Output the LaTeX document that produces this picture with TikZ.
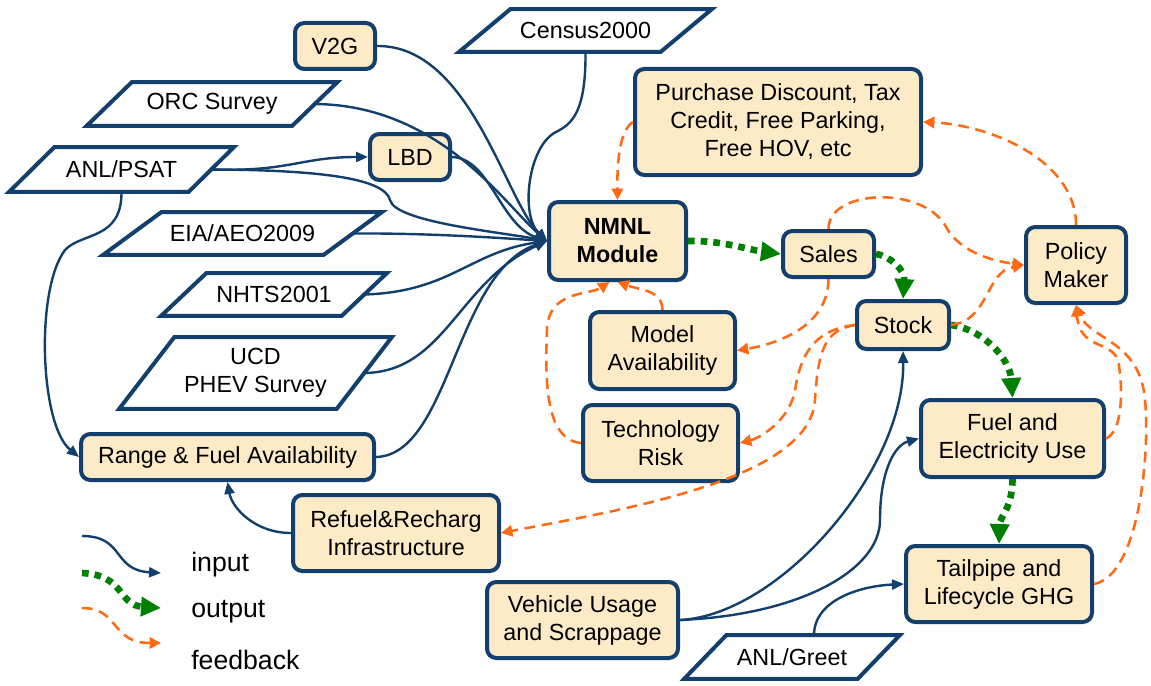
\documentclass[tikz,border=0pt]{standalone}
\usepackage{fontspec}
\setmainfont{Liberation Sans}
\usetikzlibrary{arrows.meta,calc}
\definecolor{bordblue}{HTML}{133F6C}
\definecolor{peach}{HTML}{FDEAC6}
\definecolor{outgreen}{HTML}{008000}
\definecolor{fborange}{HTML}{FF6A13}
\newcommand{\drawdatashape}[2]{%
  \draw[dataline] ($(#1.south west)+(-#2/2,0)$) -- ($(#1.north west)+(#2/2,0)$) -- ($(#1.north east)+(#2/2,0)$) -- ($(#1.south east)+(-#2/2,0)$) -- cycle;}
\begin{document}
\begin{tikzpicture}[x=0.75pt,y=-0.75pt,
  box/.style={draw=bordblue, fill=peach, line width=3pt, rounded corners=7pt, align=center, inner sep=0pt, font=\fontsize{17.5}{21}\selectfont},
  data/.style={inner sep=0pt, align=center, font=\fontsize{17.5}{21}\selectfont},
  dataline/.style={draw=bordblue, line width=3pt, line join=miter},
  inp/.style={draw=bordblue, line width=1.8pt, -{Triangle[length=9pt,width=7.5pt]}},
  outp/.style={draw=outgreen, line width=5pt, dash pattern=on 5pt off 4.5pt, -{Triangle[length=15pt,width=14pt]}},
  fb/.style={draw=fborange, line width=1.9pt, dash pattern=on 8pt off 5pt, -{Triangle[length=8.5pt,width=8.5pt]}},
  legtext/.style={anchor=west, inner sep=0pt, font=\fontsize{20}{24}\selectfont},
]
\useasboundingbox (0,0) rectangle (1151,685);

% ---------- data sources (parallelograms) ----------
\node[data, minimum width=150.75pt, minimum height=31.5pt] (census) at (585.5,30.5) {Census2000};
\node[data, minimum width=153.75pt, minimum height=32.25pt] (orc) at (212,104) {ORC Survey};
\node[data, minimum width=134.25pt, minimum height=33pt] (psat) at (121.5,169.5) {ANL/PSAT};
\node[data, minimum width=165pt, minimum height=31.5pt] (eia) at (242.5,233.5) {EIA/AEO2009};
\node[data, minimum width=135pt, minimum height=31.5pt] (nhts) at (274,294.5) {NHTS2001};
\node[data, minimum width=162.75pt, minimum height=53.25pt] (ucd) at (255.5,373) {UCD\\PHEV Survey};
\node[data, minimum width=129.75pt, minimum height=32.25pt] (greet) at (792,657) {ANL/Greet};
\drawdatashape{census}{51}
\drawdatashape{orc}{45}
\drawdatashape{psat}{45}
\drawdatashape{eia}{58}
\drawdatashape{nhts}{45}
\drawdatashape{ucd}{55}
\drawdatashape{greet}{42}

% ---------- boxes ----------
\node[box, minimum width=60pt, minimum height=34.5pt] (v2g) at (335,46) {V2G};
\node[box, minimum width=60pt, minimum height=34.5pt] (lbd) at (410,157) {LBD};
\node[box, minimum width=214.5pt, minimum height=79.5pt] (purchase) at (778,122) {Purchase Discount, Tax\\Credit, Free Parking,\\Free HOV, etc};
\node[box, minimum width=102.75pt, minimum height=58.5pt, font=\fontsize{17.5}{21}\selectfont\bfseries] (nmnl) at (617.5,241) {NMNL\\Module};
\node[box, minimum width=68.25pt, minimum height=34.5pt] (sales) at (828.5,254) {Sales};
\node[box, minimum width=75pt, minimum height=57pt] (policy) at (1076,265) {Policy\\Maker};
\node[box, minimum width=69pt, minimum height=36pt] (stock) at (903,325) {Stock};
\node[box, minimum width=108.75pt, minimum height=57.75pt] (modelav) at (662.5,350.5) {Model\\Availability};
\node[box, minimum width=116.25pt, minimum height=57pt] (techrisk) at (660.5,443) {Technology\\Risk};
\node[box, minimum width=137.25pt, minimum height=57.75pt] (fuel) at (1012.5,438.5) {Fuel and\\Electricity Use};
\node[box, minimum width=139.5pt, minimum height=57pt] (tailpipe) at (999,584) {Tailpipe and\\Lifecycle GHG};
\node[box, minimum width=219.75pt, minimum height=34.5pt] (range) at (227.5,457) {Range \& Fuel Availability};
\node[box, minimum width=154.5pt, minimum height=57pt] (refuel) at (396,533) {Refuel\&Recharg\\Infrastructure};
\node[box, minimum width=143.25pt, minimum height=57pt] (vehicle) at (582.5,620) {Vehicle Usage\\and Scrappage};

% ---------- input connectors ----------
\draw[inp] (v2g.east) .. controls (470,45) and (505,200) .. (nmnl.west);
\draw[inp] (census.south) .. controls (586,112) and (572,124) .. (556,132) .. controls (528,146) and (520,215) .. (nmnl.west);
\draw[inp] (orc.east) .. controls (440,105) and (505,205) .. (nmnl.west);
\draw[inp] (lbd.east) .. controls (490,158) and (500,225) .. (nmnl.west);
\draw[inp] (psat.east) .. controls (290,172) and (300,157) .. (lbd.west);
\draw[inp] (psat.east) .. controls (330,170) and (385,180) .. (390,200) .. controls (395,222) and (500,232) .. (nmnl.west);
\draw[inp] (eia.east) .. controls (430,233) and (500,238) .. (nmnl.west);
\draw[inp] (nhts.east) .. controls (450,292) and (470,252) .. (nmnl.west);
\draw[inp] (ucd.east) .. controls (445,372) and (458,282) .. (nmnl.west);
\draw[inp] (range.east) .. controls (450,455) and (455,272) .. (nmnl.west);
\draw[inp] (psat.south) .. controls (122,240) and (82,232) .. (65,250) .. controls (35,290) and (40,425) .. (range.west);
\draw[inp] (refuel.west) .. controls (255,533) and (232,508) .. (range.south);
\draw[inp] (vehicle.east) .. controls (780,615) and (905,470) .. (stock.south);
\draw[inp] (vehicle.east) .. controls (800,615) and (880,570) .. (880,520) .. controls (880,470) and (895,445) .. (fuel.west);
\draw[inp] ([xshift=16.5pt]greet.north) .. controls (814,600) and (860,586) .. (tailpipe.west);

% ---------- output connectors ----------
\draw[outp] (nmnl.east) .. controls (720,240) and (750,250) .. (sales.west);
\draw[outp] (sales.east) .. controls (890,256) and (905,270) .. (stock.north);
\draw[outp] (stock.east) .. controls (985,330) and (1010,360) .. (fuel.north);
\draw[outp] (fuel.south) .. controls (1012,510) and (1000,515) .. (tailpipe.north);

% ---------- feedback connectors ----------
\draw[fb] (purchase.west) .. controls (620,130) and (617,160) .. (nmnl.north);
\draw[fb] (policy.north) .. controls (1076,160) and (990,125) .. (purchase.east);
\draw[fb] (sales.north) .. controls (828,190) and (920,185) .. (945,225) .. controls (960,255) and (1000,262) .. (policy.west);
\draw[fb] (stock.east) .. controls (990,320) and (985,272) .. (policy.west);
\draw[fb] (sales.south) .. controls (828,330) and (770,345) .. (modelav.east);
\draw[fb] (stock.west) .. controls (810,330) and (800,360) .. (795,390) .. controls (790,420) and (760,438) .. (techrisk.east);
\draw[fb] (stock.west) .. controls (825,330) and (818,350) .. (815,400) .. controls (810,480) and (620,510) .. (refuel.east);
\draw[fb] (modelav.north) .. controls (662,290) and (640,290) .. (nmnl.south);
\draw[fb] (techrisk.west) .. controls (545,440) and (545,380) .. (547,330) .. controls (548,290) and (590,295) .. ([xshift=-6pt]nmnl.south);
\draw[fb] (fuel.east) .. controls (1125,430) and (1122,380) .. (1118,360) .. controls (1110,340) and (1080,350) .. (policy.south);
\draw[fb] (tailpipe.east) .. controls (1140,575) and (1150,450) .. (1145,400) .. controls (1140,340) and (1090,340) .. (policy.south);

% ---------- legend ----------
\coordinate (lgia) at (82,536);
\coordinate (lgib) at (161,573);
\coordinate (lgoa) at (82,573);
\coordinate (lgob) at (161,608);
\coordinate (lgfa) at (82,608);
\coordinate (lgfb) at (161,643);
\draw[inp] (lgia) .. controls (125,536) and (112,570) .. (lgib);
\draw[outp] (lgoa) .. controls (125,575) and (118,605) .. (lgob);
\draw[fb] (lgfa) .. controls (120,608) and (110,643) .. (lgfb);
\node[legtext] (lgin) at (191,565) {input};
\node[legtext] (lgout) at (191,612) {output};
\node[legtext] (lgfeed) at (191,660) {feedback};
\end{tikzpicture}
\end{document}
